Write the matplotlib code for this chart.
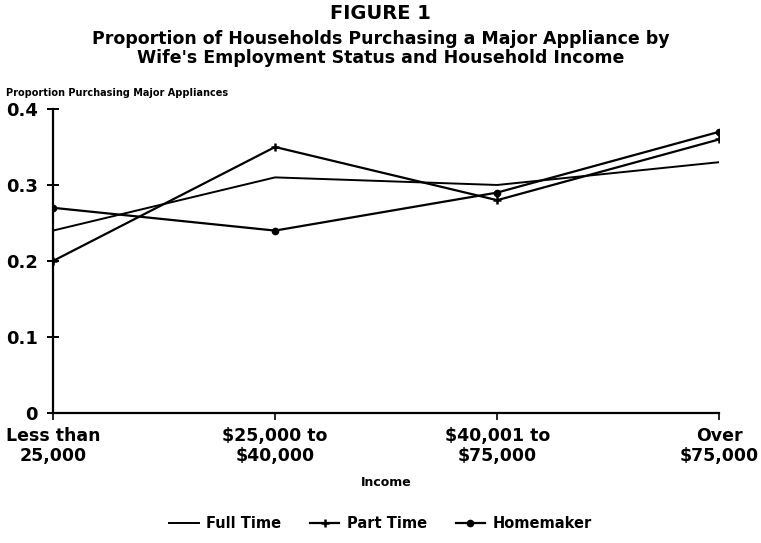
import matplotlib
matplotlib.use("Agg")
import matplotlib.pyplot as plt

plt.rcParams['font.family'] = ['DejaVu Sans']
plt.rcParams['font.weight'] = 'bold'

income_labels = ["Less than\n25,000", "$25,000 to\n$40,000", "$40,001 to\n$75,000", "Over\n$75,000"]
full_time = [0.24, 0.31, 0.30, 0.33]
part_time = [0.20, 0.35, 0.28, 0.36]
homemaker = [0.27, 0.24, 0.29, 0.37]

fig = plt.figure(figsize=(7.61, 5.43), dpi=100)
ax = fig.add_axes([0.0696, 0.2394, 0.8755, 0.5599])

x = range(len(income_labels))
ax.plot(x, full_time, color='black', lw=1.4, label='Full Time')
ax.plot(x, part_time, color='black', lw=1.6, marker='+', ms=6, mew=1.8, label='Part Time')
ax.plot(x, homemaker, color='black', lw=1.6, marker='o', ms=4.5, label='Homemaker')

ax.set_xlim(0, 3)
ax.set_ylim(0, 0.4)
ax.set_yticks([0, 0.1, 0.2, 0.3, 0.4])
ax.set_yticklabels(['0', '0.1', '0.2', '0.3', '0.4'], fontsize=13, fontweight='bold')
ax.set_xticks(list(x))
ax.set_xticklabels(income_labels, fontsize=12.5, fontweight='bold', linespacing=1.15)
ax.tick_params(axis='y', direction='inout', length=8, width=1.4, pad=7)
ax.tick_params(axis='x', direction='out', length=5, width=1.2, pad=5)
for s in ['top', 'right']:
    ax.spines[s].set_visible(False)
for s in ['left', 'bottom']:
    ax.spines[s].set_linewidth(1.6)

ax.set_xlabel('Income', fontsize=9, fontweight='bold', labelpad=8)

fig.text(0.5, 0.975, 'FIGURE 1', ha='center', va='center', fontsize=14, fontweight='bold')
fig.text(0.5, 0.929, 'Proportion of Households Purchasing a Major Appliance by',
         ha='center', va='center', fontsize=12.5, fontweight='bold')
fig.text(0.5, 0.893, "Wife's Employment Status and Household Income",
         ha='center', va='center', fontsize=12.5, fontweight='bold')
fig.text(0.008, 0.829, 'Proportion Purchasing Major Appliances', ha='left', va='center',
         fontsize=7, fontweight='bold')

fig.legend(loc='center', bbox_to_anchor=(0.5, 0.035), ncol=3, frameon=False,
           fontsize=10.5, handlelength=2.0, columnspacing=2.0, handletextpad=0.5)

fig.savefig('out.png', dpi=100)
